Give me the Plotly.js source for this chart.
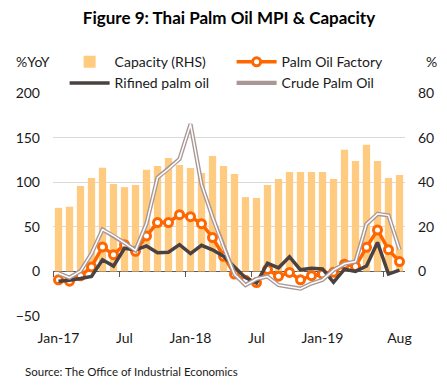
<!DOCTYPE html>
<html>
<head>
<meta charset="utf-8">
<script src="https://cdn.plot.ly/plotly-3.0.1.min.js"></script>
<style>html,body{margin:0;padding:0;background:#fff;}#chart{width:447px;height:386px;}</style>
</head>
<body>
<div id="chart"></div>
<script>
// Months Jan-17 .. Aug-19 (index 0..31)
var months = ["Jan-17","Feb-17","Mar-17","Apr-17","May-17","Jun-17","Jul-17","Aug-17","Sep-17","Oct-17","Nov-17","Dec-17",
              "Jan-18","Feb-18","Mar-18","Apr-18","May-18","Jun-18","Jul-18","Aug-18","Sep-18","Oct-18","Nov-18","Dec-18",
              "Jan-19","Feb-19","Mar-19","Apr-19","May-19","Jun-19","Jul-19","Aug-19"];
var capacity = [28.5,29,38.3,41.9,46.5,39.2,37.8,38.7,45.6,47.3,50.9,47.7,
                46.4,44.1,51.8,47.3,43.7,33.3,32.9,38.7,41.4,44.6,44.6,44.6,
                44.6,41.4,54.5,49.5,56.8,49.5,41.9,43.2];
var palmOilFactory = [-9.4,-11,-5,5,27.4,18.8,30,22.5,39.8,54.8,54.8,63.6,
                      61.3,53.5,38,17,-3,-10,-12.5,2.2,-5.3,-1.2,-9.5,-4.8,
                      -3,-1,8,5.6,27,46.4,24.3,11];
var rifinedPalmOil = [-11,-10,-8,-5.6,13,6,26,24,28.5,21,21.4,30,
                      20,29.3,24.2,17,5,-7,-13,9.2,4,16.3,1.8,3.6,
                      2.7,-12.3,2.5,0,6,32.5,-3,1.5];
var crudePalmOil = [-2,-7,0.4,20,47,40,32,23.6,53.6,105,115,126,
                    165,97.5,61,27.4,-3.3,-15.3,-8.5,-5.8,-15.3,-17.3,-19.3,-13.5,
                    -9.5,1.4,8.6,11,53,64.5,62.8,24.5];
var tickIdx = [0,6,12,18,24,31];
var tickText = ["Jan-17","Jul","Jan-18","Jul","Jan-19","Aug"];
var boundaryTicks = [-0.5,5.5,11.5,17.5,23.5,29.5];

var xs = months.map(function(m,i){return i;});
var FONT = "Lato, 'Open Sans', sans-serif";

var traces = [
  {type:"bar", name:"Capacity (RHS)", x:xs, y:capacity, xaxis:"x", yaxis:"y",
   marker:{color:"#FFCB80"}, width:0.66, hoverinfo:"skip"},
  {type:"scatter", mode:"lines+markers", name:"Palm Oil Factory", x:xs, y:palmOilFactory, xaxis:"x", yaxis:"y2",
   line:{color:"#FF6600", width:3.5}, marker:{symbol:"circle", size:8, color:"#FFFFFF", line:{color:"#FF6600", width:3}}, hoverinfo:"skip"},
  {type:"scatter", mode:"lines", name:"Rifined palm oil", x:xs, y:rifinedPalmOil, xaxis:"x", yaxis:"y2",
   line:{color:"#4A4141", width:3.5}, hoverinfo:"skip"},
  {type:"scatter", mode:"lines", name:"Crude Palm Oil", x:xs, y:crudePalmOil, xaxis:"x", yaxis:"y2",
   line:{color:"#A89795", width:4.2}, hoverinfo:"skip"},
  {type:"scatter", mode:"lines", name:"Crude inner", showlegend:false, x:xs, y:crudePalmOil, xaxis:"x", yaxis:"y2",
   line:{color:"#FFFFFF", width:1.5}, hoverinfo:"skip"},
  {type:"scatter", mode:"markers", showlegend:false, x:xs, y:capacity, xaxis:"x2", yaxis:"y",
   marker:{opacity:0, size:1}, hoverinfo:"skip"}
];

var layout = {
  width:447, height:386,
  margin:{l:53, r:42, t:93, b:70},
  paper_bgcolor:"#FFFFFF", plot_bgcolor:"rgba(0,0,0,0)",
  font:{family:FONT, size:14, color:"#1A1A1A"},
  showlegend:true,
  title:{text:"<b>Figure 9: Thai Palm Oil MPI & Capacity</b>", font:{family:FONT, size:17, color:"#000"},
         xref:"paper", x:0.5, xanchor:"center", yref:"container", y:0.953, yanchor:"middle"},
  xaxis:{range:[-0.5,31.5], tickmode:"array", tickvals:tickIdx, ticktext:tickText, ticks:"",
         showline:false, showgrid:false, zeroline:false, fixedrange:true, tickfont:{size:14}, ticklabelstandoff:12},
  xaxis2:{overlaying:"x", anchor:"free", position:0.2, range:[-0.5,31.5], tickmode:"array", tickvals:boundaryTicks,
          ticks:"outside", ticklen:5, tickcolor:"#595959", tickwidth:1, showticklabels:false,
          showline:true, linecolor:"#595959", linewidth:1, showgrid:false, zeroline:false, layer:"below traces"},
  yaxis:{side:"right", range:[-20,80], tickmode:"array", tickvals:[0,20,40,60,80], showgrid:false, zeroline:false,
         ticks:"", ticklabelstandoff:12, tickfont:{size:14}},
  yaxis2:{overlaying:"y", side:"left", range:[-50,200], tickmode:"array", tickvals:[-50,0,50,100,150,200],
          showgrid:true, gridcolor:"#D9D9D9", gridwidth:1, zeroline:false, ticks:"", ticklabelstandoff:12, tickfont:{size:14}},
  legend:{orientation:"h", x:0.033, xanchor:"left", y:1.21, yanchor:"top", entrywidth:112, entrywidthmode:"pixels",
          font:{size:14}, bgcolor:"rgba(0,0,0,0)", itemwidth:40},
  shapes:[
    {type:"line", xref:"paper", yref:"paper", x0:0.535, x1:0.617, y0:1.049, y1:1.049, layer:"above",
     line:{color:"#FFFFFF", width:1.5}}
  ],
  annotations:[
    {text:"%YoY", xref:"paper", yref:"paper", x:-0.11, y:1.14, xanchor:"left", yanchor:"middle", showarrow:false, font:{size:14}},
    {text:"%", xref:"paper", yref:"paper", x:1.055, y:1.14, xanchor:"left", yanchor:"middle", showarrow:false, font:{size:14}},
    {text:"Source: The Office of Industrial Economics", xref:"paper", yref:"paper", x:-0.085, y:-0.251,
     xanchor:"left", yanchor:"middle", showarrow:false, font:{size:11.5}}
  ]
};

Plotly.newPlot("chart", traces, layout, {displayModeBar:false, staticPlot:true});
</script>
</body>
</html>
